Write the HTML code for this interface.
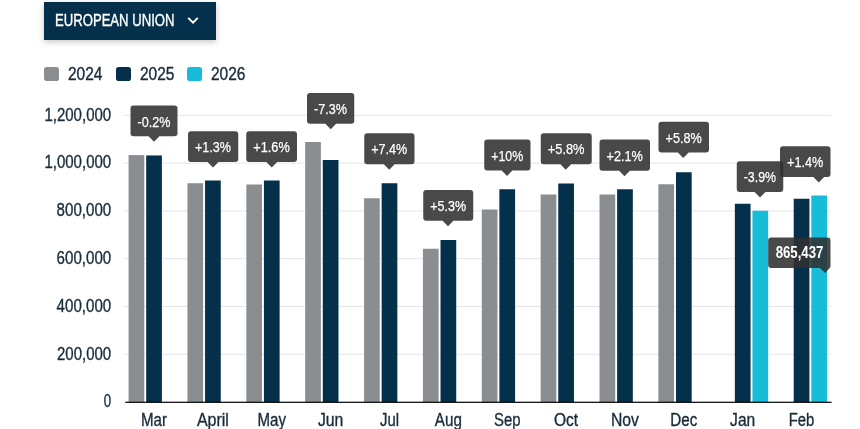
<!DOCTYPE html>
<html lang="en">
<head>
<meta charset="utf-8">
<title>New car registrations - European Union</title>
<style>
html,body{margin:0;padding:0;background:#fff;}
body{width:860px;height:429px;position:relative;overflow:hidden;font-family:"Liberation Sans",Arial,sans-serif;color:#1a2c39;}
.region-btn{z-index:2;position:absolute;left:44px;top:2px;width:171.5px;height:37.5px;background:#04304b;border:0;padding:0;margin:0;box-shadow:0 2px 6px rgba(0,0,0,.22);color:#fff;font-family:inherit;cursor:pointer;}
.region-btn .lbl{position:absolute;left:11.4px;top:8.5px;font-size:15.8px;line-height:20px;white-space:nowrap;transform-origin:0 50%;transform:scaleX(.83);-webkit-text-stroke:0.35px #fff;}
.region-btn svg{position:absolute;left:143px;top:14px;}
.legend{position:absolute;left:44.5px;top:62px;margin:0;padding:0;list-style:none;height:24px;}
.legend li{position:absolute;top:0;height:24px;white-space:nowrap;}
.legend .sw{position:absolute;left:-0.3px;top:5px;width:14.8px;height:14.3px;border-radius:2.8px;}
.legend .tx{position:absolute;left:23.6px;top:-0.45px;font-size:18.2px;line-height:24px;transform-origin:0 50%;transform:scaleX(.852);-webkit-text-stroke:0.4px #1a2c39;}
</style>
</head>
<body>
<button class="region-btn" type="button"><span class="lbl">EUROPEAN UNION</span>
<svg width="12" height="9" viewBox="0 0 12 9"><path d="M1.2 1.9L6 6.6L10.8 1.9" fill="none" stroke="#fff" stroke-width="2"/></svg></button>
<ul class="legend">
<li style="left:0"><span class="sw" style="background:#8b8e90"></span><span class="tx">2024</span></li>
<li style="left:71.8px"><span class="sw" style="background:#04304b"></span><span class="tx">2025</span></li>
<li style="left:142.8px"><span class="sw" style="background:#17bcd8"></span><span class="tx">2026</span></li>
</ul>
<svg width="860" height="429" viewBox="0 0 860 429" style="position:absolute;left:0;top:0;pointer-events:none" font-family="'Liberation Sans', Arial, sans-serif">
<text x="103.8" y="407.35" font-size="17.6" fill="#1a2c39" stroke="#1a2c39" stroke-width="0.35" textLength="7.4" lengthAdjust="spacingAndGlyphs">0</text>
<rect x="123.4" y="353.80" width="707.6" height="1" fill="#e5e5e5"/>
<text x="57.0" y="359.55" font-size="17.6" fill="#1a2c39" stroke="#1a2c39" stroke-width="0.35" textLength="54.2" lengthAdjust="spacingAndGlyphs">200,000</text>
<rect x="123.4" y="306.00" width="707.6" height="1" fill="#e5e5e5"/>
<text x="56.6" y="311.75" font-size="17.6" fill="#1a2c39" stroke="#1a2c39" stroke-width="0.35" textLength="54.6" lengthAdjust="spacingAndGlyphs">400,000</text>
<rect x="123.4" y="258.20" width="707.6" height="1" fill="#e5e5e5"/>
<text x="56.6" y="263.95" font-size="17.6" fill="#1a2c39" stroke="#1a2c39" stroke-width="0.35" textLength="54.6" lengthAdjust="spacingAndGlyphs">600,000</text>
<rect x="123.4" y="210.40" width="707.6" height="1" fill="#e5e5e5"/>
<text x="56.6" y="216.15" font-size="17.6" fill="#1a2c39" stroke="#1a2c39" stroke-width="0.35" textLength="54.6" lengthAdjust="spacingAndGlyphs">800,000</text>
<rect x="123.4" y="162.60" width="707.6" height="1" fill="#e5e5e5"/>
<text x="44.4" y="168.35" font-size="17.6" fill="#1a2c39" stroke="#1a2c39" stroke-width="0.35" textLength="66.8" lengthAdjust="spacingAndGlyphs">1,000,000</text>
<rect x="123.4" y="114.80" width="707.6" height="1" fill="#e5e5e5"/>
<text x="44.4" y="120.55" font-size="17.6" fill="#1a2c39" stroke="#1a2c39" stroke-width="0.35" textLength="66.8" lengthAdjust="spacingAndGlyphs">1,200,000</text>
<rect x="128.58" y="155.10" width="15.7" height="247.00" fill="#8b8e90"/>
<rect x="146.18" y="155.45" width="15.7" height="246.65" fill="#04304b"/>
<rect x="187.45" y="183.25" width="15.7" height="218.85" fill="#8b8e90"/>
<rect x="205.05" y="180.50" width="15.7" height="221.60" fill="#04304b"/>
<rect x="246.32" y="184.50" width="15.7" height="217.60" fill="#8b8e90"/>
<rect x="263.92" y="180.50" width="15.7" height="221.60" fill="#04304b"/>
<rect x="305.18" y="142.00" width="15.7" height="260.10" fill="#8b8e90"/>
<rect x="322.78" y="160.00" width="15.7" height="242.10" fill="#04304b"/>
<rect x="364.05" y="198.25" width="15.7" height="203.85" fill="#8b8e90"/>
<rect x="381.65" y="183.25" width="15.7" height="218.85" fill="#04304b"/>
<rect x="422.92" y="248.75" width="15.7" height="153.35" fill="#8b8e90"/>
<rect x="440.52" y="240.00" width="15.7" height="162.10" fill="#04304b"/>
<rect x="481.78" y="209.50" width="15.7" height="192.60" fill="#8b8e90"/>
<rect x="499.38" y="189.25" width="15.7" height="212.85" fill="#04304b"/>
<rect x="540.65" y="194.50" width="15.7" height="207.60" fill="#8b8e90"/>
<rect x="558.25" y="183.50" width="15.7" height="218.60" fill="#04304b"/>
<rect x="599.52" y="194.50" width="15.7" height="207.60" fill="#8b8e90"/>
<rect x="617.12" y="189.25" width="15.7" height="212.85" fill="#04304b"/>
<rect x="658.38" y="184.25" width="15.7" height="217.85" fill="#8b8e90"/>
<rect x="675.98" y="172.25" width="15.7" height="229.85" fill="#04304b"/>
<rect x="734.85" y="203.75" width="15.7" height="198.35" fill="#04304b"/>
<rect x="752.45" y="210.75" width="15.7" height="191.35" fill="#17bcd8"/>
<rect x="793.72" y="198.75" width="15.7" height="203.35" fill="#04304b"/>
<rect x="811.32" y="195.50" width="15.7" height="206.60" fill="#17bcd8"/>
<rect x="125.2" y="401.7" width="706.4" height="1.2" fill="#000"/>
<text x="141.03" y="425.7" font-size="17.5" fill="#1a2c39" stroke="#1a2c39" stroke-width="0.35" textLength="26" lengthAdjust="spacingAndGlyphs">Mar</text>
<text x="196.90" y="425.7" font-size="17.5" fill="#1a2c39" stroke="#1a2c39" stroke-width="0.35" textLength="32" lengthAdjust="spacingAndGlyphs">April</text>
<text x="257.52" y="425.7" font-size="17.5" fill="#1a2c39" stroke="#1a2c39" stroke-width="0.35" textLength="28.5" lengthAdjust="spacingAndGlyphs">May</text>
<text x="317.88" y="425.7" font-size="17.5" fill="#1a2c39" stroke="#1a2c39" stroke-width="0.35" textLength="25.5" lengthAdjust="spacingAndGlyphs">Jun</text>
<text x="380.00" y="425.7" font-size="17.5" fill="#1a2c39" stroke="#1a2c39" stroke-width="0.35" textLength="19" lengthAdjust="spacingAndGlyphs">Jul</text>
<text x="434.87" y="425.7" font-size="17.5" fill="#1a2c39" stroke="#1a2c39" stroke-width="0.35" textLength="27" lengthAdjust="spacingAndGlyphs">Aug</text>
<text x="493.98" y="425.7" font-size="17.5" fill="#1a2c39" stroke="#1a2c39" stroke-width="0.35" textLength="26.5" lengthAdjust="spacingAndGlyphs">Sep</text>
<text x="554.00" y="425.7" font-size="17.5" fill="#1a2c39" stroke="#1a2c39" stroke-width="0.35" textLength="24.2" lengthAdjust="spacingAndGlyphs">Oct</text>
<text x="610.97" y="425.7" font-size="17.5" fill="#1a2c39" stroke="#1a2c39" stroke-width="0.35" textLength="28" lengthAdjust="spacingAndGlyphs">Nov</text>
<text x="670.33" y="425.7" font-size="17.5" fill="#1a2c39" stroke="#1a2c39" stroke-width="0.35" textLength="27" lengthAdjust="spacingAndGlyphs">Dec</text>
<text x="730.10" y="425.7" font-size="17.5" fill="#1a2c39" stroke="#1a2c39" stroke-width="0.35" textLength="25.2" lengthAdjust="spacingAndGlyphs">Jan</text>
<text x="788.77" y="425.7" font-size="17.5" fill="#1a2c39" stroke="#1a2c39" stroke-width="0.35" textLength="25.6" lengthAdjust="spacingAndGlyphs">Feb</text>
<g opacity="1"><path d="M133.50 105.50H174.50Q177.50 105.50 177.50 108.50V133.25Q177.50 136.25 174.50 136.25H159.40L154.00 141.85L148.60 136.25H133.50Q130.50 136.25 130.50 133.25V108.50Q130.50 105.50 133.50 105.50Z" fill="#303030" fill-opacity=".88"/></g><text x="137.50" y="126.60" font-size="15.5" fill="#fff" stroke="#fff" stroke-width="0.25" textLength="32.8" lengthAdjust="spacingAndGlyphs">-0.2%</text>
<g opacity="1"><path d="M191.00 131.25H235.25Q238.25 131.25 238.25 134.25V159.00Q238.25 162.00 235.25 162.00H218.40L213.00 167.60L207.60 162.00H191.00Q188.00 162.00 188.00 159.00V134.25Q188.00 131.25 191.00 131.25Z" fill="#303030" fill-opacity=".88"/></g><text x="195.00" y="152.35" font-size="15.5" fill="#fff" stroke="#fff" stroke-width="0.25" textLength="36.0" lengthAdjust="spacingAndGlyphs">+1.3%</text>
<g opacity="1"><path d="M249.25 131.25H294.00Q297.00 131.25 297.00 134.25V159.00Q297.00 162.00 294.00 162.00H277.15L271.75 167.60L266.35 162.00H249.25Q246.25 162.00 246.25 159.00V134.25Q246.25 131.25 249.25 131.25Z" fill="#303030" fill-opacity=".88"/></g><text x="253.25" y="152.35" font-size="15.5" fill="#fff" stroke="#fff" stroke-width="0.25" textLength="36.5" lengthAdjust="spacingAndGlyphs">+1.6%</text>
<g opacity="1"><path d="M310.00 93.00H351.25Q354.25 93.00 354.25 96.00V120.75Q354.25 123.75 351.25 123.75H336.15L330.75 129.35L325.35 123.75H310.00Q307.00 123.75 307.00 120.75V96.00Q307.00 93.00 310.00 93.00Z" fill="#303030" fill-opacity=".88"/></g><text x="314.00" y="114.10" font-size="15.5" fill="#fff" stroke="#fff" stroke-width="0.25" textLength="33.0" lengthAdjust="spacingAndGlyphs">-7.3%</text>
<g opacity="1"><path d="M367.25 133.25H411.50Q414.50 133.25 414.50 136.25V161.25Q414.50 164.25 411.50 164.25H394.65L389.25 169.85L383.85 164.25H367.25Q364.25 164.25 364.25 161.25V136.25Q364.25 133.25 367.25 133.25Z" fill="#303030" fill-opacity=".88"/></g><text x="371.25" y="154.35" font-size="15.5" fill="#fff" stroke="#fff" stroke-width="0.25" textLength="36.0" lengthAdjust="spacingAndGlyphs">+7.4%</text>
<g opacity="1"><path d="M426.25 190.00H470.25Q473.25 190.00 473.25 193.00V217.75Q473.25 220.75 470.25 220.75H453.40L448.00 226.35L442.60 220.75H426.25Q423.25 220.75 423.25 217.75V193.00Q423.25 190.00 426.25 190.00Z" fill="#303030" fill-opacity=".88"/></g><text x="430.25" y="211.10" font-size="15.5" fill="#fff" stroke="#fff" stroke-width="0.25" textLength="35.8" lengthAdjust="spacingAndGlyphs">+5.3%</text>
<g opacity="1"><path d="M487.25 139.50H527.50Q530.50 139.50 530.50 142.50V167.50Q530.50 170.50 527.50 170.50H512.40L507.00 176.10L501.60 170.50H487.25Q484.25 170.50 484.25 167.50V142.50Q484.25 139.50 487.25 139.50Z" fill="#303030" fill-opacity=".88"/></g><text x="491.25" y="160.60" font-size="15.5" fill="#fff" stroke="#fff" stroke-width="0.25" textLength="32.0" lengthAdjust="spacingAndGlyphs">+10%</text>
<g opacity="1"><path d="M543.75 133.25H588.75Q591.75 133.25 591.75 136.25V161.25Q591.75 164.25 588.75 164.25H571.15L565.75 169.85L560.35 164.25H543.75Q540.75 164.25 540.75 161.25V136.25Q540.75 133.25 543.75 133.25Z" fill="#303030" fill-opacity=".88"/></g><text x="547.75" y="154.35" font-size="15.5" fill="#fff" stroke="#fff" stroke-width="0.25" textLength="36.8" lengthAdjust="spacingAndGlyphs">+5.8%</text>
<g opacity="1"><path d="M602.50 139.50H647.00Q650.00 139.50 650.00 142.50V167.75Q650.00 170.75 647.00 170.75H629.90L624.50 176.35L619.10 170.75H602.50Q599.50 170.75 599.50 167.75V142.50Q599.50 139.50 602.50 139.50Z" fill="#303030" fill-opacity=".88"/></g><text x="606.50" y="160.60" font-size="15.5" fill="#fff" stroke="#fff" stroke-width="0.25" textLength="36.3" lengthAdjust="spacingAndGlyphs">+2.1%</text>
<g opacity="1"><path d="M661.50 121.75H706.00Q709.00 121.75 709.00 124.75V149.50Q709.00 152.50 706.00 152.50H688.65L683.25 158.10L677.85 152.50H661.50Q658.50 152.50 658.50 149.50V124.75Q658.50 121.75 661.50 121.75Z" fill="#303030" fill-opacity=".88"/></g><text x="665.50" y="142.85" font-size="15.5" fill="#fff" stroke="#fff" stroke-width="0.25" textLength="36.3" lengthAdjust="spacingAndGlyphs">+5.8%</text>
<g opacity="1"><path d="M739.75 161.25H780.25Q783.25 161.25 783.25 164.25V189.00Q783.25 192.00 780.25 192.00H765.40L760.00 197.60L754.60 192.00H739.75Q736.75 192.00 736.75 189.00V164.25Q736.75 161.25 739.75 161.25Z" fill="#303030" fill-opacity=".88"/></g><text x="743.75" y="182.35" font-size="15.5" fill="#fff" stroke="#fff" stroke-width="0.25" textLength="32.3" lengthAdjust="spacingAndGlyphs">-3.9%</text>
<g opacity="1"><path d="M783.00 146.25H827.50Q830.50 146.25 830.50 149.25V174.00Q830.50 177.00 827.50 177.00H824.15L818.75 182.60L813.35 177.00H783.00Q780.00 177.00 780.00 174.00V149.25Q780.00 146.25 783.00 146.25Z" fill="#303030" fill-opacity=".88"/></g><text x="787.00" y="167.35" font-size="15.5" fill="#fff" stroke="#fff" stroke-width="0.25" textLength="36.3" lengthAdjust="spacingAndGlyphs">+1.4%</text>
<path d="M771.2 237.4H827.5Q830.5 237.4 830.5 240.4V267L825.3 273.1L819.8 268H771.2Q768.2 268 768.2 265V240.4Q768.2 237.4 771.2 237.4Z" fill="#303030" fill-opacity=".88"/>
<text x="775.7" y="257.8" font-size="16.5" font-weight="bold" fill="#fff" textLength="47.7" lengthAdjust="spacingAndGlyphs">865,437</text>
</svg>
</body>
</html>
